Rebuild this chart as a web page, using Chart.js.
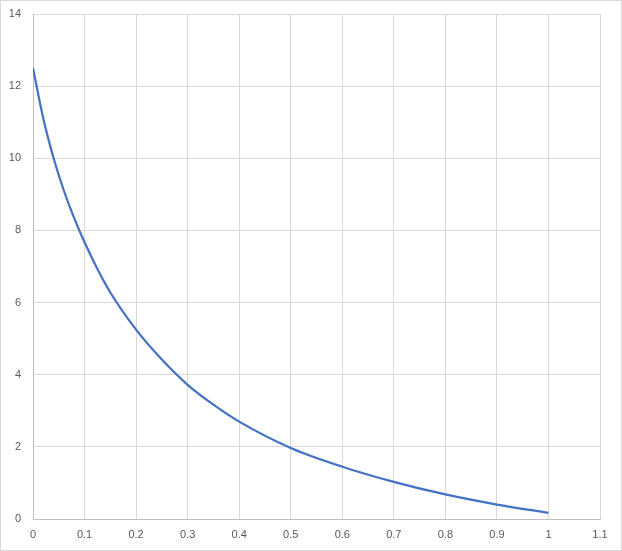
<!DOCTYPE html>
<html>
<head>
<meta charset="utf-8">
<script src="https://cdn.jsdelivr.net/npm/chart.js@4/dist/chart.umd.min.js"></script>
<style>
  html, body { margin: 0; padding: 0; background: #fff; }
  #wrap { position: relative; width: 622px; height: 551px; }
</style>
</head>
<body>
<div id="wrap"><canvas id="chart" width="622" height="551"></canvas></div>
<script>
    // Curve values
    const xValues = [0, 0.02, 0.04, 0.06, 0.08, 0.1, 0.125, 0.15, 0.2, 0.25, 0.3, 0.35, 0.4, 0.5, 0.6, 0.7, 0.8, 0.9, 1.0];
    const yValues = [12.5, 11.1, 10.0, 9.1, 8.34, 7.67, 6.93, 6.28, 5.25, 4.42, 3.72, 3.17, 2.70, 1.97, 1.45, 1.03, 0.68, 0.40, 0.17];
    const xTickLabels = ['0', '0.1', '0.2', '0.3', '0.4', '0.5', '0.6', '0.7', '0.8', '0.9', '1', '1.1'];
    const yTickLabels = ['0', '2', '4', '6', '8', '10', '12', '14'];

    const points = xValues.map((x, i) => ({ x: x, y: yValues[i] }));

    // Thin frame round the whole chart
    const frame = {
        id: 'frame',
        afterDraw(chart) {
            const ctx = chart.ctx;
            ctx.save();
            ctx.strokeStyle = '#d9d9d9';
            ctx.lineWidth = 1;
            ctx.strokeRect(0.5, 0.5, chart.width - 1, chart.height - 1);
            ctx.restore();
        }
    };

    const tickFont = { family: "'Liberation Sans', Arial, sans-serif", size: 11 };

    new Chart(document.getElementById('chart').getContext('2d'), {
        type: 'scatter',
        data: {
            datasets: [{
                data: points,
                showLine: true,
                borderColor: '#4472c4',
                borderWidth: 2.25,
                pointRadius: 0,
                cubicInterpolationMode: 'monotone',
                fill: false
            }]
        },
        options: {
            responsive: false,
            animation: false,
            layout: { padding: { left: 0, top: 0, right: 22, bottom: 0 } },
            plugins: { legend: { display: false }, tooltip: { enabled: false } },
            scales: {
                x: {
                    type: 'linear',
                    min: 0,
                    max: 1.1,
                    afterFit: s => { s.height = 32; },
                    grid: { color: '#d9d9d9', drawTicks: false },
                    border: { color: '#bfbfbf' },
                    ticks: {
                        stepSize: 0.1,
                        padding: 9,
                        color: '#595959',
                        font: tickFont,
                        maxRotation: 0,
                        autoSkip: false,
                        callback: (v, i) => xTickLabels[i]
                    }
                },
                y: {
                    min: 0,
                    max: 14,
                    // fixed width, and top gap as in the picture
                    afterFit: s => { s.width = 33; s.paddingTop = 14; },
                    grid: { color: '#d9d9d9', drawTicks: false },
                    border: { color: '#bfbfbf' },
                    ticks: {
                        stepSize: 2,
                        padding: 12,
                        color: '#595959',
                        font: tickFont,
                        callback: (v, i) => yTickLabels[i]
                    }
                }
            }
        },
        plugins: [frame]
    });
</script>
</body>
</html>
